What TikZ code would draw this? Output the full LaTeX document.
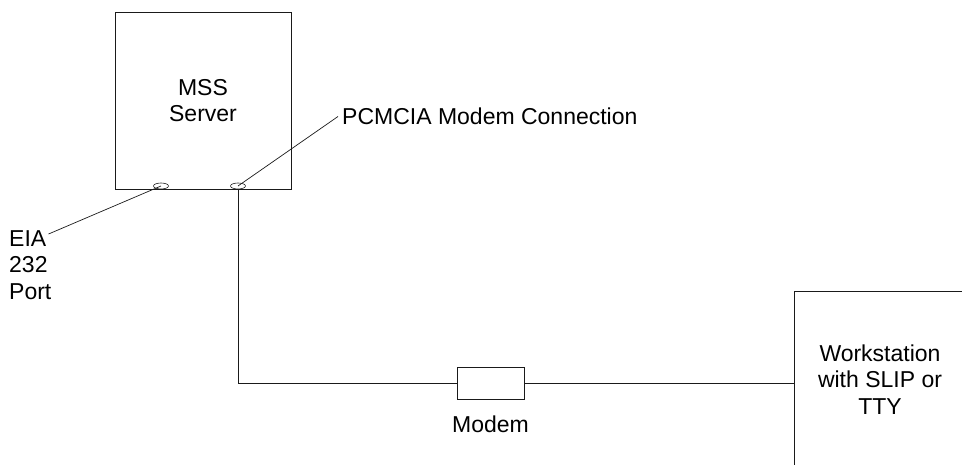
\documentclass[tikz,border=0pt]{standalone}
\usepackage{fontspec}
\setmainfont{Liberation Sans}
\usepackage{tikz}
\usetikzlibrary{positioning, shapes}
\usepackage{xcolor}
\definecolor{linecol}{HTML}{1A1A1A}

\begin{document}
\begin{tikzpicture}[x=1pt, y=-1pt,
  every node/.style={inner sep=0pt, align=center, font=\fontsize{23}{26.5}\selectfont},
  unit/.style={draw=linecol, line width=0.7pt, rectangle},
  port/.style={draw=linecol, line width=0.6pt, ellipse, minimum width=15pt, minimum height=6pt, font=\tiny},
  wire/.style={draw=linecol, line width=0.7pt}]
\useasboundingbox (0,0) rectangle (962,465);

% Server with its two ports
\node[unit, minimum width=176pt, minimum height=177pt] (server) at (203,100.5) {MSS\\Server};
\node[port] (eiaport) at (161,186) {};
\node[port] (pcmport) at (238,186) {};

% Port labels
\node[anchor=north west, align=left] (eialabel) at (9,230) {EIA\\232\\Port};
\node[anchor=west] (pcmlabel) at (342,116.5) {PCMCIA Modem Connection};

% Modem
\node[unit, minimum width=67pt, minimum height=32pt] (modem) at (490.5,383) {};
\node[below=16pt of modem] (modemlabel) {Modem};

% Workstation (runs off the page)
\begin{scope}
\clip (0,0) rectangle (962,465);
\node[unit, minimum width=172pt, minimum height=177pt] (station) at (880,379.5) {Workstation\\with SLIP or\\TTY};
\end{scope}

% Connections
\draw[wire] (eiaport.center) -- ([xshift=-3pt, yshift=-4pt]eialabel.north east);
\draw[wire] (pcmport.center) -- ([xshift=-4pt]pcmlabel.west);
\draw[wire] (pcmport.south) |- (modem.west);
\draw[wire] (modem.east) -- (modem.east -| station.west);
\end{tikzpicture}
\end{document}
